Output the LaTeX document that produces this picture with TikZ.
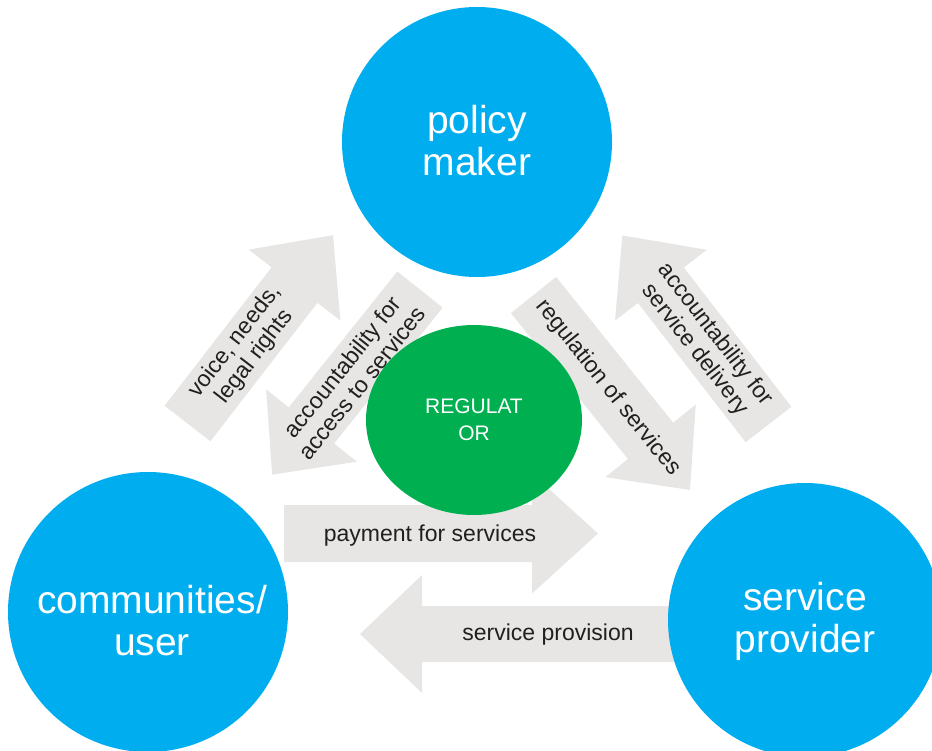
\documentclass[tikz,border=0pt]{standalone}
\usepackage{fontspec}
\setmainfont{Liberation Sans}
\usetikzlibrary{shapes.geometric}

\definecolor{actorblue}{RGB}{0,174,239}
\definecolor{regulatorgreen}{RGB}{0,176,80}
\definecolor{flowgray}{RGB}{231,230,228}
\definecolor{labelgray}{RGB}{35,31,32}

\tikzset{
  flow/.style={fill=flowgray},
  flowlabel/.style={text=labelgray, align=center, inner sep=0pt, font=\fontsize{23}{25}\selectfont},
  actor/.style={circle, fill=actorblue, inner sep=0pt},
  actortext/.style={text=white, align=center, inner sep=0pt, font=\fontsize{39}{42}\selectfont},
  regulator/.style={ellipse, fill=regulatorgreen, text=white, align=center, inner sep=0pt,
    minimum width=216pt, minimum height=190pt, font=\fontsize{21}{27}\selectfont},
}

\begin{document}
\begin{tikzpicture}[x=1pt, y=-1pt]
    \useasboundingbox (0,0) rectangle (932,750);
    \clip (0,0) rectangle (932,750);

    % users -> policy maker
    \begin{scope}[shift={(187.5,423.5)}, rotate=52.3]
        \fill[flow] (0,-29) -- (175,-29) -- (175,-58) -- (238,0) -- (175,58) -- (175,29) -- (0,29) -- cycle;
        \node[flowlabel, rotate=52.3] (voice) at (94,0) {voice, needs,\\legal rights};
    \end{scope}

    % policy maker -> users
    \begin{scope}[shift={(420,289.5)}, rotate=231.4]
        \fill[flow] (0,-29) -- (174,-29) -- (174,-58) -- (237,0) -- (174,58) -- (174,29) -- (0,29) -- cycle;
        \node[flowlabel, rotate=51.4] (access) at (109,0) {accountability for\\access to services};
    \end{scope}

    % policy maker -> provider
    \begin{scope}[shift={(533.5,295)}, rotate=-51.25]
        \fill[flow] (0,-29) -- (187,-29) -- (187,-58) -- (250,0) -- (187,58) -- (187,29) -- (0,29) -- cycle;
        \node[flowlabel, rotate=-51.25] (regulation) at (119,0) {regulation of services};
    \end{scope}

    % provider -> policy maker
    \begin{scope}[shift={(768.5,424.5)}, rotate=127.7]
        \fill[flow] (0,-29) -- (176,-29) -- (176,-58) -- (239,0) -- (176,58) -- (176,29) -- (0,29) -- cycle;
        \node[flowlabel, rotate=-52.3] (delivery) at (104,0) {accountability for\\service delivery};
    \end{scope}

    % users -> provider
    \begin{scope}[shift={(284,533.5)}]
        \fill[flow] (0,-28.5) -- (248,-28.5) -- (248,-60) -- (314,0) -- (248,60) -- (248,28.5) -- (0,28.5) -- cycle;
        \node[flowlabel] (payment) at (146,2) {payment for services};
    \end{scope}

    % provider -> users
    \begin{scope}[shift={(680,634)}, rotate=180]
        \fill[flow] (0,-28) -- (258,-28) -- (258,-59) -- (320,0) -- (258,59) -- (258,28) -- (0,28) -- cycle;
        \node[flowlabel] (provision) at (132,-1) {service provision};
    \end{scope}

    % the three actors
    \node[actor, minimum size=270pt] (policy) at (477,142) {};
    \node[actortext] (policytext) at (477,141) {policy\\maker};
    \node[actor, minimum size=280pt] (users) at (148,612) {};
    \node[actortext] (userstext) at (152,621) {communities/\\user};
    \node[actor, minimum size=274pt] (provider) at (805,620) {};
    \node[actortext] (providertext) at (805,621) {service\\provider};

    % regulator in the middle
    \node[regulator] (regulator) at (474,420) {REGULAT\\OR};
\end{tikzpicture}
\end{document}
